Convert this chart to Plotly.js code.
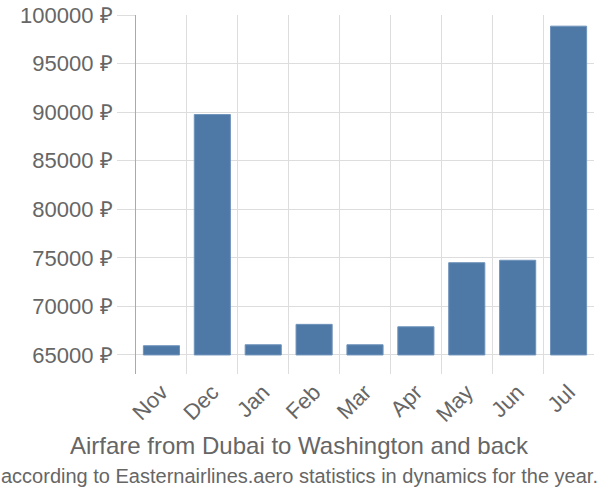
<!DOCTYPE html>
<html><head><meta charset="utf-8">
<script src="https://cdn.plot.ly/plotly-3.0.1.min.js"></script>
<style>body{margin:0}#c{width:600px;height:500px}</style>
</head><body><div id="c"></div>
<script>
const months = ["Nov","Dec","Jan","Feb","Mar","Apr","May","Jun","Jul"];
const prices = [65950, 89750, 66050, 68150, 66050, 67900, 74500, 74750, 98850];
const baseValue = 65000;
const yTicks = [65000,70000,75000,80000,85000,90000,95000,100000];
const yTickText = yTicks.map(v => v + " \u20BD");

const trace = {
  type: "bar",
  x: months,
  y: prices.map(v => v - baseValue),
  base: prices.map(() => baseValue),
  marker: {color: "#4e79a7", line: {color: "#6f93bb", width: 1}},
  hoverinfo: "skip"
};
const layout = {
  width: 600, height: 500,
  margin: {l: 136, r: 6, t: 15, b: 126},
  paper_bgcolor: "#fff", plot_bgcolor: "#fff",
  bargap: 0.29,
  showlegend: false,
  font: {family: "Liberation Sans, Arial, sans-serif", color: "#666"},
  xaxis: {
    type: "category",
    tickson: "boundaries",
    showgrid: true, gridcolor: "#ddd", gridwidth: 1,
    ticks: "", tickangle: -45,
    tickfont: {size: 22, color: "#666"},
    showline: false, zeroline: false,
    range: [-0.5, 8.5]
  },
  yaxis: {
    range: [63040, 100000],
    tickvals: yTicks, ticktext: yTickText,
    tickfont: {size: 22, color: "#666"},
    ticks: "outside", ticklen: 18, tickcolor: "#ddd",
    showgrid: true, gridcolor: "#ddd", gridwidth: 1,
    showline: true, linecolor: "#aaa", linewidth: 1,
    zeroline: false
  },
  annotations: [
    {text: "Airfare from Dubai to Washington and back", xref: "paper", yref: "paper",
     x: 0.358, xanchor: "center", y: -0.198, yanchor: "middle", showarrow: false,
     font: {size: 24, color: "#666"}},
    {text: "according to Easternairlines.aero statistics in dynamics for the year.", xref: "paper", yref: "paper",
     x: 0.358, xanchor: "center", y: -0.284, yanchor: "middle", showarrow: false,
     font: {size: 20, color: "#666"}}
  ]
};
Plotly.newPlot("c", [trace], layout, {displayModeBar: false, staticPlot: true});
</script></body></html>
